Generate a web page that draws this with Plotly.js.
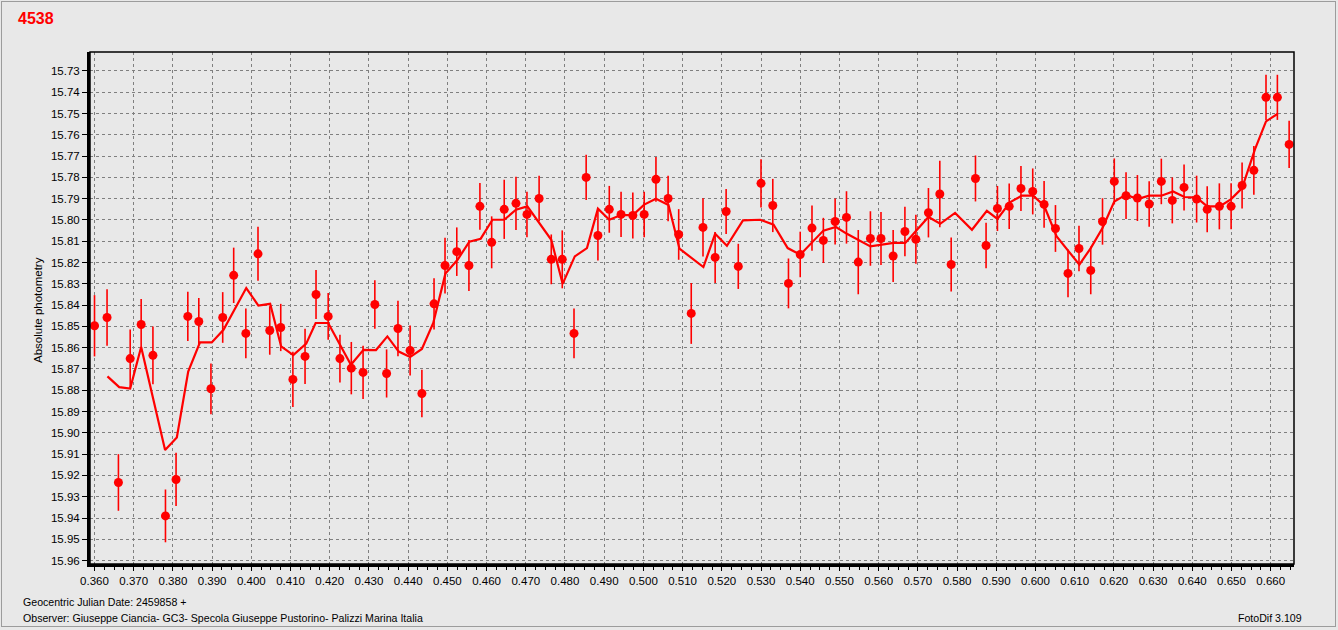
<!DOCTYPE html>
<html>
<head>
<meta charset="utf-8">
<script src="https://cdn.plot.ly/plotly-3.0.1.min.js"></script>
<style>
html,body{margin:0;padding:0;background:#e8e8e8;overflow:hidden;}
#wrap{position:relative;width:1338px;height:630px;}
#chart{position:absolute;left:0;top:0;width:1338px;height:630px;}
#frame{position:absolute;left:1px;top:1px;width:1333px;height:624px;border:1px solid #9c9c9c;pointer-events:none;}
</style>
</head>
<body>
<div id="wrap"><div id="chart"></div><div id="frame"></div></div>
<script>
// Observations: geocentric JD offset (days), magnitude, error
const jd = [0.3600,0.3632,0.3661,0.3691,0.3719,0.3749,0.3781,0.3808,0.3838,0.3866,
0.3897,0.3927,0.3955,0.3986,0.4017,0.4047,0.4075,0.4106,0.4137,0.4165,
0.4196,0.4226,0.4255,0.4285,0.4315,0.4345,0.4374,0.4405,0.4435,0.4466,
0.4494,0.4524,0.4555,0.4583,0.4613,0.4645,0.4675,0.4703,0.4734,0.4765,
0.4793,0.4823,0.4854,0.4884,0.4913,0.4943,0.4973,0.5002,0.5032,0.5063,
0.5090,0.5122,0.5152,0.5183,0.5211,0.5242,0.5300,0.5330,0.5370,0.5400,
0.5430,0.5459,0.5489,0.5518,0.5548,0.5579,0.5606,0.5637,0.5667,0.5695,
0.5727,0.5756,0.5785,0.5847,0.5874,0.5903,0.5933,0.5963,0.5993,0.6022,
0.6051,0.6083,0.6111,0.6141,0.6171,0.6201,0.6231,0.6260,0.6290,0.6321,
0.6349,0.6379,0.6411,0.6438,0.6469,0.6499,0.6527,0.6557,0.6588,0.6617,0.6647];
const mag = [15.8497,15.8458,15.9233,15.8651,15.8491,15.8636,15.9390,15.9219,15.8453,15.8477,
15.8793,15.8458,15.8260,15.8533,15.8159,15.8519,15.8505,15.8749,15.8641,15.8350,
15.8453,15.8651,15.8696,15.8716,15.8397,15.8721,15.8510,15.8613,15.8815,15.8394,
15.8214,15.8149,15.8214,15.7936,15.8105,15.7950,15.7922,15.7974,15.7899,15.8185,
15.8185,15.8533,15.7800,15.8073,15.7950,15.7974,15.7979,15.7974,15.7809,15.7899,
15.8068,15.8439,15.8035,15.8176,15.7960,15.8218,15.7828,15.7932,15.8298,15.8162,
15.8038,15.8096,15.8007,15.7988,15.8198,15.8087,15.8087,15.8169,15.8054,15.8091,
15.7966,15.7878,15.8209,15.7805,15.8120,15.7946,15.7936,15.7852,15.7866,15.7927,
15.8040,15.8251,15.8134,15.8237,15.8007,15.7819,15.7886,15.7897,15.7925,15.7819,
15.7908,15.7847,15.7902,15.7950,15.7936,15.7936,15.7838,15.7767,15.7424,15.7424,15.7645];
const err = [0.0144,0.0133,0.0133,0.0136,0.0120,0.0136,0.0124,0.0125,0.0116,0.0110,
0.0119,0.0119,0.0130,0.0117,0.0127,0.0114,0.0111,0.0130,0.0130,0.0115,
0.0110,0.0112,0.0123,0.0125,0.0114,0.0113,0.0130,0.0117,0.0112,0.0120,
0.0131,0.0114,0.0120,0.0110,0.0122,0.0139,0.0125,0.0107,0.0107,0.0117,
0.0136,0.0117,0.0106,0.0117,0.0110,0.0106,0.0108,0.0107,0.0105,0.0107,
0.0119,0.0143,0.0137,0.0120,0.0106,0.0106,0.0113,0.0125,0.0117,0.0107,
0.0106,0.0106,0.0108,0.0123,0.0151,0.0128,0.0125,0.0122,0.0116,0.0115,
0.0116,0.0156,0.0127,0.0108,0.0107,0.0106,0.0107,0.0106,0.0108,0.0110,
0.0110,0.0112,0.0107,0.0112,0.0109,0.0108,0.0110,0.0108,0.0107,0.0107,
0.0108,0.0108,0.0110,0.0108,0.0108,0.0108,0.0108,0.0114,0.0106,0.0106,0.0111];
// Running mean curve
const avgJd = [0.3633,0.3663,0.3691,0.3719,0.3780,0.3810,0.3839,0.3869,0.3899,0.3929,
0.3987,0.4018,0.4048,0.4076,0.4107,0.4140,0.4164,0.4196,0.4254,0.4286,
0.4318,0.4347,0.4376,0.4405,0.4435,0.4464,0.4495,0.4526,0.4556,0.4585,
0.4615,0.4645,0.4675,0.4704,0.4765,0.4794,0.4825,0.4856,0.4884,0.4913,
0.4943,0.4973,0.5002,0.5032,0.5064,0.5092,0.5153,0.5183,0.5213,0.5254,
0.5298,0.5332,0.5368,0.5400,0.5459,0.5491,0.5519,0.5579,0.5638,0.5668,
0.5727,0.5757,0.5795,0.5838,0.5876,0.5903,0.5935,0.5965,0.5994,0.6022,
0.6054,0.6112,0.6141,0.6171,0.6201,0.6231,0.6260,0.6290,0.6321,0.6351,
0.6380,0.6411,0.6438,0.6470,0.6499,0.6527,0.6560,0.6588,0.6618];
const avgMag = [15.8735,15.8785,15.8792,15.8597,15.9080,15.9022,15.8712,15.8575,15.8575,15.8516,
15.8320,15.8402,15.8394,15.8594,15.8635,15.8581,15.8484,15.8484,15.8680,15.8610,
15.8611,15.8547,15.8618,15.8644,15.8606,15.8484,15.8252,15.8187,15.8102,15.8088,
15.7999,15.7999,15.7952,15.7936,15.8093,15.8300,15.8171,15.8132,15.7947,15.7999,
15.7977,15.7977,15.7928,15.7900,15.7930,15.8135,15.8221,15.8065,15.8121,15.8002,
15.7999,15.8022,15.8132,15.8163,15.8050,15.8033,15.8065,15.8124,15.8108,15.8108,
15.7986,15.8018,15.7967,15.8046,15.7957,15.7995,15.7917,15.7886,15.7886,15.7933,
15.8077,15.8210,15.8132,15.8038,15.7913,15.7881,15.7902,15.7886,15.7886,15.7866,
15.7892,15.7895,15.7936,15.7936,15.7902,15.7850,15.7667,15.7537,15.7501];

const starName = "4538";
const yTitle = "Absolute photometry";
const dateLabel = "Geocentric Julian Date: 2459858 +";
const observerLabel = "Observer: Giuseppe Ciancia- GC3- Specola Giuseppe Pustorino- Palizzi Marina Italia";
const softwareLabel = "FotoDif 3.109";

const FONT = "Liberation Sans, Arial, sans-serif";
const RED = "#ff0000";

const traces = [
  {
    x: jd, y: mag, type: "scatter", mode: "markers",
    marker: {color: RED, size: 9},
    error_y: {type: "data", array: err, visible: true, color: RED, thickness: 1.6, width: 0},
    hoverinfo: "x+y"
  },
  {
    x: avgJd, y: avgMag, type: "scatter", mode: "lines",
    line: {color: RED, width: 2.2},
    hoverinfo: "x+y"
  }
];

const gridStyle = {gridcolor: "#7f7f7f", gridwidth: 1, griddash: "3px,3px"};

const layout = {
  width: 1338, height: 630,
  margin: {l: 90, r: 44, t: 52, b: 66, pad: 0},
  paper_bgcolor: "#e8e8e8",
  plot_bgcolor: "#e8e8e8",
  showlegend: false,
  font: {family: FONT, size: 11.5, color: "#000"},
  xaxis: Object.assign({
    range: [0.35885, 0.66594],
    tick0: 0.36, dtick: 0.01, tickformat: ".3f",
    ticks: "outside", ticklen: 4, tickcolor: "#000", tickwidth: 1,
    showline: true, linecolor: "#000", linewidth: 3,
    zeroline: false,
    tickfont: {family: FONT, size: 11.5, color: "#000"},
    minor: {dtick: 0.0025, ticks: "outside", ticklen: 3, tickcolor: "#000", showgrid: false}
  }, gridStyle),
  yaxis: Object.assign({
    range: [15.9616, 15.7211],
    tick0: 15.73, dtick: 0.01, tickformat: ".2f",
    ticks: "outside", ticklen: 5, tickcolor: "#000", tickwidth: 1,
    showline: true, linecolor: "#000", linewidth: 3,
    zeroline: false,
    tickfont: {family: FONT, size: 11.5, color: "#000"}
  }, gridStyle),
  shapes: [
    {type: "rect", xref: "paper", yref: "paper", x0: 0, x1: 1, y0: 0, y1: 1,
     line: {color: "#000", width: 1.5}, fillcolor: "rgba(0,0,0,0)", layer: "above"}
  ],
  annotations: [
    {text: "<b>" + starName + "</b>", xref: "paper", yref: "paper", x: -0.0615, y: 1.0645,
     xanchor: "left", yanchor: "middle", showarrow: false,
     font: {family: FONT, size: 16, color: RED}},
    {text: yTitle, xref: "paper", yref: "paper", x: -0.0432, y: 0.496, textangle: -90,
     xanchor: "center", yanchor: "middle", showarrow: false,
     font: {family: FONT, size: 11.5, color: "#000"}},
    {text: dateLabel, xref: "paper", yref: "paper", x: -0.0575, y: -0.0742,
     xanchor: "left", yanchor: "middle", showarrow: false,
     font: {family: FONT, size: 10.6, color: "#000"}},
    {text: observerLabel, xref: "paper", yref: "paper", x: -0.0575, y: -0.1055,
     xanchor: "left", yanchor: "middle", showarrow: false,
     font: {family: FONT, size: 10.6, color: "#000"}},
    {text: softwareLabel, xref: "paper", yref: "paper", x: 1.0085, y: -0.1055,
     xanchor: "right", yanchor: "middle", showarrow: false,
     font: {family: FONT, size: 10.6, color: "#000"}}
  ]
};

Plotly.newPlot("chart", traces, layout, {displayModeBar: false, staticPlot: true});
</script>
</body>
</html>
